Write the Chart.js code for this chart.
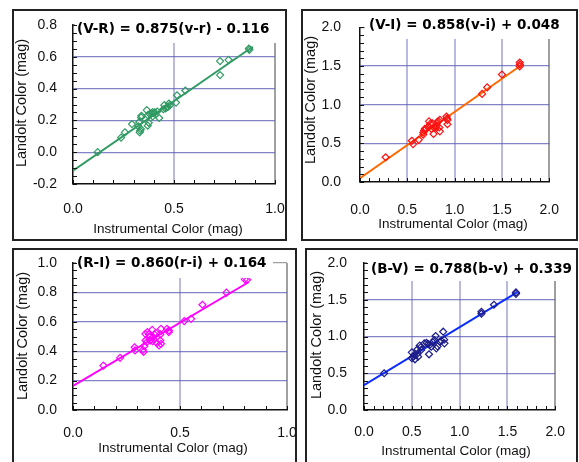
<!DOCTYPE html>
<html>
<head>
<meta charset="utf-8">
<script src="https://cdn.jsdelivr.net/npm/chart.js@4.4.1/dist/chart.umd.min.js"></script>
<style>
html, body { margin: 0; padding: 0; background: #fff; }
#page { position: relative; width: 579px; height: 462px; overflow: hidden; background: #fff; }
.panel { position: absolute; box-sizing: border-box; border: 2px solid #222; }
canvas { position: absolute; left: 0; top: 0; }
</style>
</head>
<body>
<div id="page">
  <div class="panel" style="left:12px;top:9px;width:275px;height:232px"></div>
  <div class="panel" style="left:301px;top:9px;width:277px;height:232px"></div>
  <div class="panel" style="left:12px;top:248px;width:285px;height:230px"></div>
  <div class="panel" style="left:305px;top:248px;width:273px;height:230px"></div>
  <canvas id="c1" width="579" height="462"></canvas>
  <canvas id="c2" width="579" height="462"></canvas>
  <canvas id="c3" width="579" height="462"></canvas>
  <canvas id="c4" width="579" height="462"></canvas>
</div>
<script>
// ---- data ----
// (V-R) vs (v-r)
const vrInst = [0.122, 0.238, 0.257, 0.292, 0.330, 0.333, 0.336, 0.323, 0.328, 0.337, 0.339, 0.365, 0.370, 0.370, 0.375, 0.380, 0.388, 0.394, 0.394, 0.401, 0.405, 0.417, 0.427, 0.447, 0.452, 0.457, 0.464, 0.470, 0.475, 0.480, 0.510, 0.515, 0.556, 0.728, 0.728, 0.770, 0.871, 0.873];
const vrLand = [0.000, 0.092, 0.125, 0.177, 0.125, 0.135, 0.146, 0.163, 0.190, 0.219, 0.229, 0.265, 0.233, 0.167, 0.185, 0.240, 0.244, 0.252, 0.225, 0.246, 0.250, 0.256, 0.215, 0.270, 0.296, 0.275, 0.281, 0.285, 0.306, 0.296, 0.312, 0.358, 0.388, 0.573, 0.485, 0.581, 0.652, 0.644];
const vrFitX = [0.0, 0.89];
const vrFitY = [-0.116, 0.663];

// (V-I) vs (v-i)
const viInst = [0.271, 0.548, 0.561, 0.621, 0.669, 0.669, 0.678, 0.685, 0.700, 0.723, 0.729, 0.742, 0.755, 0.767, 0.777, 0.780, 0.799, 0.809, 0.818, 0.828, 0.838, 0.844, 0.844, 0.914, 0.920, 0.924, 0.924, 1.290, 1.344, 1.500, 1.688, 1.690, 1.688];
const viLand = [0.320, 0.533, 0.490, 0.546, 0.638, 0.613, 0.667, 0.688, 0.690, 0.717, 0.785, 0.751, 0.688, 0.759, 0.621, 0.705, 0.709, 0.730, 0.772, 0.789, 0.705, 0.805, 0.655, 0.847, 0.822, 0.801, 0.747, 1.140, 1.224, 1.391, 1.546, 1.520, 1.496];
const viFitX = [0.0, 1.70];
const viFitY = [0.048, 1.507];

// (R-I) vs (r-i)
const riInst = [0.142, 0.220, 0.288, 0.290, 0.327, 0.330, 0.333, 0.339, 0.338, 0.348, 0.355, 0.345, 0.361, 0.370, 0.373, 0.377, 0.380, 0.389, 0.392, 0.402, 0.408, 0.408, 0.411, 0.411, 0.439, 0.448, 0.448, 0.520, 0.552, 0.605, 0.717, 0.803, 0.814, 0.360, 0.372];
const riLand = [0.302, 0.355, 0.427, 0.405, 0.409, 0.395, 0.434, 0.473, 0.518, 0.530, 0.514, 0.461, 0.473, 0.545, 0.495, 0.480, 0.514, 0.523, 0.455, 0.439, 0.473, 0.514, 0.552, 0.450, 0.552, 0.530, 0.541, 0.605, 0.620, 0.716, 0.798, 0.889, 0.886, 0.500, 0.468];
const riFitX = [0.0, 0.82];
const riFitY = [0.164, 0.869];

// (B-V) vs (b-v)
const bvInst = [0.211, 0.500, 0.500, 0.516, 0.526, 0.533, 0.556, 0.559, 0.566, 0.582, 0.592, 0.598, 0.631, 0.654, 0.671, 0.680, 0.690, 0.703, 0.720, 0.736, 0.749, 0.756, 0.769, 0.795, 0.808, 0.828, 0.838, 0.841, 1.228, 1.228, 1.359, 1.589, 1.589];
const bvLand = [0.500, 0.785, 0.704, 0.726, 0.749, 0.690, 0.762, 0.826, 0.726, 0.876, 0.853, 0.817, 0.907, 0.912, 0.898, 0.758, 0.889, 0.862, 0.921, 0.952, 1.007, 0.839, 0.866, 0.930, 0.943, 1.065, 0.957, 0.907, 1.337, 1.310, 1.432, 1.600, 1.580];
const bvFitX = [0.0, 1.60];
const bvFitY = [0.339, 1.600];

const titles = [
  '(V-R) = 0.875(v-r) - 0.116',
  '(V-I) = 0.858(v-i) + 0.048',
  '(R-I) = 0.860(r-i) + 0.164',
  '(B-V) = 0.788(b-v) + 0.339'
];
const xTitle = 'Instrumental Color (mag)';
const yTitle = 'Landolt Color (mag)';

const W = 579, H = 462;
const tickFont = { family: '"Liberation Sans", Arial, sans-serif', size: 14 };

function zip(xs, ys) {
  return xs.map((x, i) => ({ x: x, y: ys[i] }));
}

// draws the equation box, minor ticks and the axis titles
function makeDecor(p) {
  return {
    id: 'decor',
    afterDatasetsDraw(chart) {
      const ctx = chart.ctx, a = chart.chartArea;
      const xs = chart.scales.x, ys = chart.scales.y;
      ctx.save();
      // equation box
      ctx.fillStyle = '#fff';
      ctx.fillRect(p.box[0], p.box[1], p.box[2], p.box[3]);
      ctx.fillStyle = '#000';
      ctx.font = 'bold 13.5px "DejaVu Sans", sans-serif';
      ctx.textAlign = 'left';
      ctx.textBaseline = 'middle';
      ctx.fillText(p.title, p.titleX, p.titleY);

      // minor ticks, inward
      ctx.strokeStyle = '#111';
      ctx.lineWidth = 1;
      ctx.beginPath();
      let n = Math.round((p.xMax - p.xMin) / p.minorX);
      for (let i = 0; i <= n; i++) {
        const px = Math.round(xs.getPixelForValue(p.xMin + i * p.minorX)) + 0.5;
        ctx.moveTo(px, a.bottom);
        ctx.lineTo(px, a.bottom - 4);
      }
      n = Math.round((p.yMax - p.yMin) / p.minorY);
      for (let i = 0; i <= n; i++) {
        const py = Math.round(ys.getPixelForValue(p.yMin + i * p.minorY)) + 0.5;
        ctx.moveTo(a.left, py);
        ctx.lineTo(a.left + 4, py);
      }
      ctx.stroke();

      // axis titles
      ctx.fillStyle = '#111';
      ctx.textAlign = 'center';
      ctx.font = '13.5px "Liberation Sans", Arial, sans-serif';
      ctx.fillText(xTitle, p.xt[0], p.xt[1]);
      ctx.translate(p.yt[0], p.yt[1]);
      ctx.rotate(-Math.PI / 2);
      ctx.font = '14.5px "Liberation Sans", Arial, sans-serif';
      ctx.fillText(yTitle, 0, 0);
      ctx.restore();
    }
  };
}

function edgeColor(min, max, inner) {
  return (c) => {
    const v = c.tick ? c.tick.value : null;
    if (v === null) return inner;
    if (Math.abs(v - max) < 1e-6) return '#a0a0a0';
    if (Math.abs(v - min) < 1e-6) return 'rgba(0,0,0,0)';
    return inner;
  };
}

function makeChart(id, p) {
  new Chart(document.getElementById(id), {
    type: 'scatter',
    data: {
      datasets: [
        {
          data: zip(p.xs, p.ys),
          pointStyle: 'rectRot',
          pointRadius: 3.5,
          borderWidth: 1.2,
          borderColor: p.markColor,
          backgroundColor: 'rgba(0,0,0,0)'
        },
        {
          data: zip(p.fitX, p.fitY),
          showLine: true,
          pointRadius: 0,
          borderWidth: 2,
          borderColor: p.lineColor
        }
      ]
    },
    options: {
      responsive: false,
      animation: false,
      devicePixelRatio: 1,
      layout: {
        padding: { left: p.area[0] - 60, top: p.area[1], right: W - p.area[2], bottom: H - p.area[3] - 60 }
      },
      plugins: { legend: { display: false }, tooltip: { enabled: false } },
      scales: {
        x: {
          type: 'linear', min: p.xMin, max: p.xMax,
          ticks: { stepSize: p.xStep, padding: p.xPad, font: tickFont, color: '#111', callback: v => v.toFixed(1) },
          grid: { drawTicks: false, color: edgeColor(p.xMin, p.xMax, 'rgba(140,140,205,0.6)'), lineWidth: 2 },
          border: { display: true, color: '#111', width: 1.5 },
          afterFit: s => { s.height = 60; }
        },
        y: {
          type: 'linear', min: p.yMin, max: p.yMax,
          ticks: { stepSize: p.yStep, padding: p.yPad, font: tickFont, color: '#111', callback: v => v.toFixed(1) },
          grid: { drawTicks: false, color: edgeColor(p.yMin, p.yMax, 'rgba(90,90,180,0.75)'), lineWidth: 1.3 },
          border: { display: true, color: '#111', width: 1.5 },
          afterFit: s => { s.width = 60; }
        }
      }
    },
    plugins: [makeDecor(p)]
  });
}

makeChart('c1', {
  xs: vrInst, ys: vrLand, fitX: vrFitX, fitY: vrFitY, title: titles[0],
  markColor: '#2f9a62', lineColor: '#2f9a62',
  area: [73, 25, 275, 184],
  xMin: 0, xMax: 1, xStep: 0.5, minorX: 0.1,
  yMin: -0.2, yMax: 0.8, yStep: 0.2, minorY: 0.05,
  xPad: 17, yPad: 16,
  box: [75, 16, 201, 27], titleX: 77, titleY: 29,
  xt: [168, 229], yt: [22, 103]
});

makeChart('c2', {
  xs: viInst, ys: viLand, fitX: viFitX, fitY: viFitY, title: titles[1],
  markColor: '#ff1010', lineColor: '#ff6a00',
  area: [360, 25, 568, 182],
  xMin: 0, xMax: 2, xStep: 0.5, minorX: 0.1,
  yMin: 0, yMax: 2, yStep: 0.5, minorY: 0.1,
  xPad: 20, yPad: 19,
  box: [365, 13, 196, 26], titleX: 369, titleY: 25,
  xt: [453, 224], yt: [311, 100]
});

makeChart('c3', {
  xs: riInst, ys: riLand, fitX: riFitX, fitY: riFitY, title: titles[2],
  markColor: '#ff00ff', lineColor: '#ff00ff',
  area: [73, 263, 287, 410],
  xMin: 0, xMax: 1, xStep: 0.5, minorX: 0.1,
  yMin: 0, yMax: 1, yStep: 0.2, minorY: 0.05,
  xPad: 15, yPad: 16,
  box: [76, 251, 197, 27], titleX: 77, titleY: 263,
  xt: [173, 448], yt: [23, 336]
});

makeChart('c4', {
  xs: bvInst, ys: bvLand, fitX: bvFitX, fitY: bvFitY, title: titles[3],
  markColor: '#1c1c8a', lineColor: '#0a2cff',
  area: [364, 263, 567, 410],
  xMin: 0, xMax: 2, xStep: 0.5, minorX: 0.1,
  yMin: 0, yMax: 2, yStep: 0.5, minorY: 0.1,
  xPad: 14, yPad: 17,
  box: [367, 256, 200, 25], titleX: 371, titleY: 269,
  xt: [456, 451], yt: [317, 335]
});
</script>
</body>
</html>
